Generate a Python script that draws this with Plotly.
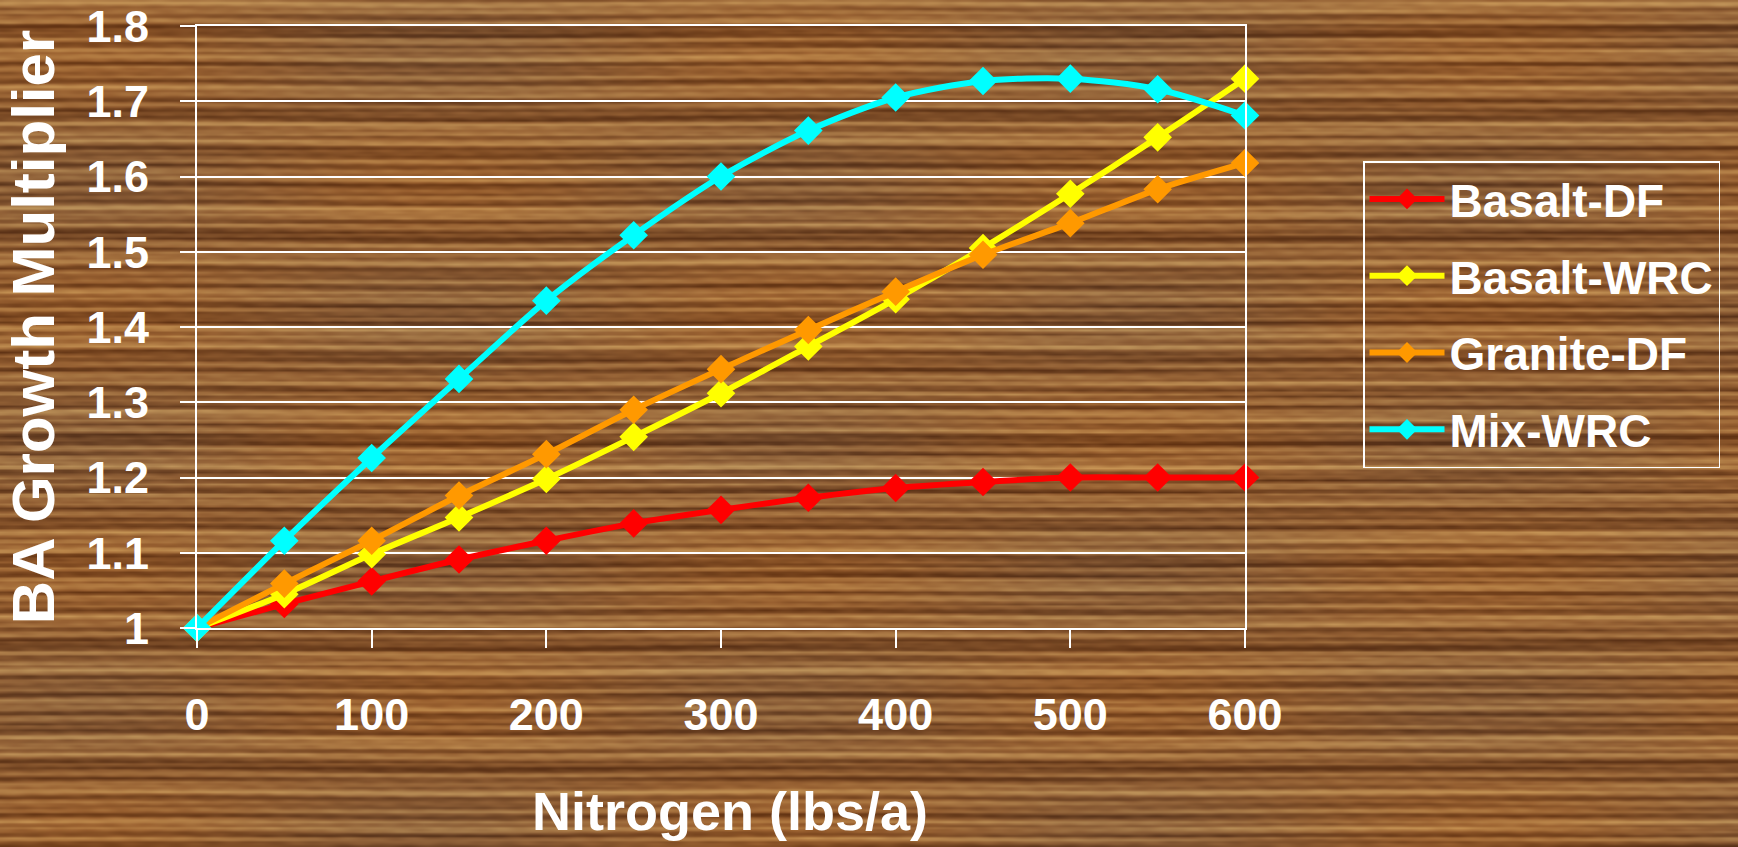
import base64
import struct
import zlib

import numpy as np
import plotly.graph_objects as go

# ---- data -------------------------------------------------------------
nitrogen = [0, 50, 100, 150, 200, 250, 300, 350, 400, 450, 500, 550, 600]

basalt_df = [1.000, 1.032, 1.062, 1.091, 1.116, 1.139, 1.157, 1.173, 1.186, 1.194, 1.200, 1.200, 1.200]
basalt_wrc = [1.000, 1.045, 1.098, 1.147, 1.198, 1.254, 1.312, 1.374, 1.437, 1.505, 1.577, 1.652, 1.730]
granite_df = [1.000, 1.059, 1.116, 1.176, 1.231, 1.290, 1.344, 1.396, 1.447, 1.496, 1.538, 1.583, 1.618]
mix_wrc = [1.000, 1.116, 1.226, 1.331, 1.435, 1.522, 1.600, 1.661, 1.705, 1.727, 1.730, 1.716, 1.681]

series_names = ["Basalt-DF", "Basalt-WRC", "Granite-DF", "Mix-WRC"]
series_colors = ["#ff0000", "#ffff00", "#ff9900", "#00ffff"]

x_ticks = [0, 100, 200, 300, 400, 500, 600]
y_ticks = [1.0, 1.1, 1.2, 1.3, 1.4, 1.5, 1.6, 1.7, 1.8]

# ---- canvas geometry ---------------------------------------------------
W, H = 1738, 847
M_L, M_R, M_T, M_B = 197, 493, 26, 219
PLOT_W = W - M_L - M_R
PLOT_H = H - M_T - M_B


def wood_texture_png(w, h):
    """Build a horizontal wood-grain backdrop and return it as a PNG data URI."""
    y = np.arange(h)[:, None] * 2.0
    x = np.arange(w)[None, :] * 2.0
    tau = 2 * np.pi
    t = (0.30 * np.sin(tau * y / 9.3 + 0.6 * np.sin(tau * x / 610.0))
         + 0.26 * np.sin(tau * y / 17.1 + 0.9 * np.sin(tau * x / 820.0 + 1.0))
         + 0.20 * np.sin(tau * y / 41.0 + 0.4 * np.sin(tau * x / 1300.0 + 0.4))
         + 0.16 * np.sin(tau * y / 5.3 + 0.8 * np.sin(tau * x / 450.0 + 2.0))
         * (0.6 + 0.4 * np.sin(tau * x / 57.0 + y * 0.9))
         + 0.12 * np.sin(tau * y / 3.1 + 0.7 * np.sin(tau * x / 230.0 + 0.7))
         * (0.5 + 0.5 * np.sin(tau * x / 33.0 + y * 1.7))
         + 0.10 * np.sin(tau * y / 67.0 + 1.3))
    t = (t - t.min()) / (t.max() - t.min())
    t = np.clip((t - 0.5) * 1.35 + 0.5, 0, 1)
    # a gentle warm/cool drift across the board
    warm = 0.5 + 0.5 * np.sin(tau * x / 700.0 + 0.8) * np.sin(tau * y / 260.0 + 0.3)
    dark = np.array([92, 50, 22], dtype=float)
    mid = np.array([148, 96, 52], dtype=float)
    light = np.array([194, 148, 88], dtype=float)
    t3 = t[..., None]
    lo = dark + (mid - dark) * np.clip(t3 * 2, 0, 1)
    rgb = np.where(t3 < 0.5, lo, mid + (light - mid) * np.clip(t3 * 2 - 1, 0, 1))
    rgb = rgb + (warm[..., None] - 0.5) * np.array([14.0, 2.0, -8.0])
    img = np.clip(rgb, 0, 255).astype(np.uint8)

    raw = b"".join(b"\x00" + img[r].tobytes() for r in range(h))

    def chunk(tag, data):
        c = struct.pack(">I", len(data)) + tag + data
        return c + struct.pack(">I", zlib.crc32(tag + data) & 0xFFFFFFFF)

    png = (b"\x89PNG\r\n\x1a\n"
           + chunk(b"IHDR", struct.pack(">IIBBBBB", w, h, 8, 2, 0, 0, 0))
           + chunk(b"IDAT", zlib.compress(raw, 9))
           + chunk(b"IEND", b""))
    return "data:image/png;base64," + base64.b64encode(png).decode()


FONT = "Liberation Sans, Arial, sans-serif"

fig = go.Figure()
for name, color, values in zip(series_names, series_colors,
                               [basalt_df, basalt_wrc, granite_df, mix_wrc]):
    fig.add_trace(go.Scatter(
        x=nitrogen, y=values, name=name, mode="lines+markers",
        line=dict(color=color, width=6, shape="spline", smoothing=0.8),
        marker=dict(symbol="diamond", size=22, color=color),
        cliponaxis=False, legendgroup=name,
    ))

fig.update_layout(
    width=W, height=H,
    margin=dict(l=M_L, r=M_R, t=M_T, b=M_B, pad=0, autoexpand=False),
    paper_bgcolor="#8a5c32",
    plot_bgcolor="rgba(0,0,0,0)",
    font=dict(family=FONT, color="white", size=45, weight="bold"),
    showlegend=True,
    legend=dict(
        x=(1363 - M_L) / PLOT_W, y=(H - M_B - 161) / PLOT_H,
        xanchor="left", yanchor="top",
        bgcolor="rgba(0,0,0,0)", bordercolor="white", borderwidth=1.5,
        font=dict(family=FONT, size=46, color="white", weight="bold"),
        itemwidth=75, tracegroupgap=14,
    ),
    annotations=[dict(
        text="Nitrogen (lbs/a)", showarrow=False,
        xref="paper", yref="paper",
        x=(730 - M_L) / PLOT_W, y=(H - M_B - 811) / PLOT_H,
        xanchor="center", yanchor="middle",
        font=dict(family=FONT, size=54, color="white", weight="bold"),
    )],
    images=[dict(
        source=wood_texture_png(W // 2, H // 2 + 1),
        xref="paper", yref="paper",
        x=-M_L / PLOT_W, y=1 + M_T / PLOT_H,
        sizex=W / PLOT_W, sizey=H / PLOT_H,
        xanchor="left", yanchor="top", sizing="stretch", layer="below",
    )],
)

fig.update_xaxes(
    range=[0, 600], tickvals=x_ticks, ticktext=[str(v) for v in x_ticks],
    automargin=False,
    showgrid=False, zeroline=False,
    showline=True, linecolor="white", linewidth=2, mirror=True,
    ticks="outside", ticklen=18, tickwidth=2, tickcolor="white",
    ticklabelstandoff=28,
    tickfont=dict(family=FONT, size=45, color="white", weight="bold"),
)
fig.update_yaxes(
    range=[1.0, 1.8], tickvals=y_ticks, ticktext=[f"{v:g}" for v in y_ticks],
    automargin=False,
    showgrid=True, gridcolor="white", gridwidth=2, zeroline=False,
    showline=True, linecolor="white", linewidth=2, mirror=True,
    ticks="outside", ticklen=15, tickwidth=2, tickcolor="white",
    ticklabelstandoff=22,
    tickfont=dict(family=FONT, size=45, color="white", weight="bold"),
    title=dict(text="BA Growth Multiplier", standoff=14,
               font=dict(family=FONT, size=60, color="white", weight="bold")),
)

fig.write_html("out.html")
